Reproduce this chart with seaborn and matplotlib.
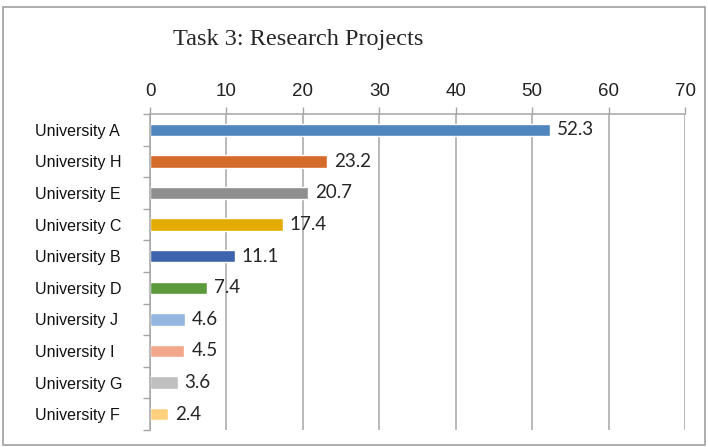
import matplotlib
matplotlib.use("Agg")
import matplotlib.pyplot as plt
import seaborn as sns
import pandas as pd
from matplotlib.patches import Rectangle
from matplotlib.ticker import FixedLocator

universities = ["University A", "University H", "University E", "University C", "University B",
                "University D", "University J", "University I", "University G", "University F"]
values = [52.3, 23.2, 20.7, 17.4, 11.1, 7.4, 4.6, 4.5, 3.6, 2.4]
colors = ["#4F86BE", "#D46B2A", "#8E8E8E", "#E4AC00", "#3E63AE",
          "#5B9A3B", "#95B7E0", "#F2A68A", "#BFBFBF", "#FFD17F"]
x_ticks = [0, 10, 20, 30, 40, 50, 60, 70]
title = "Task 3: Research Projects"

df = pd.DataFrame({"university": universities, "value": values})

sns.set_style("white")
fig = plt.figure(figsize=(7.08, 4.47), dpi=100)
ax = fig.add_axes([150/708, 1-430/447, (685-150)/708, (430-114)/447])

sns.barplot(data=df, y="university", x="value", hue="university",
            palette=dict(zip(universities, colors)), order=universities,
            width=0.39, legend=False, ax=ax, saturation=1)

ax.set_xlim(0, 70)
ax.set_ylim(len(universities)-0.5, -0.5)
ax.xaxis.tick_top()
ax.set_xticks(x_ticks)
ax.set_xticklabels([str(t) for t in x_ticks], fontsize=13.5, family="Liberation Sans", color="#222222")
ax.tick_params(axis="x", which="major", length=5, width=1, color="#A6A6A6", pad=5, top=True, bottom=False)
ax.xaxis.grid(True, color="#A6A6A6", linewidth=1.1)
ax.set_axisbelow(True)
ax.set_xlabel("")
ax.set_ylabel("")

ax.set_yticks(range(len(universities)))
ax.set_yticklabels(universities, fontsize=11.5, family="Liberation Sans", ha="left", color="#111111")
ax.tick_params(axis="y", which="major", length=0, pad=115*0.72)
ax.yaxis.set_minor_locator(FixedLocator([i-0.5 for i in range(len(universities)+1)]))
ax.tick_params(axis="y", which="minor", length=5, width=1, color="#A6A6A6", left=True)

for s in ["right", "bottom"]:
    ax.spines[s].set_visible(False)
for s in ["top", "left"]:
    ax.spines[s].set_color("#A6A6A6")
    ax.spines[s].set_linewidth(1.1)

for c in ax.containers:
    ax.bar_label(c, labels=[f"{v:.1f}" for v in c.datavalues], padding=5,
                 fontsize=13.5, family="Lato", color="#262626")

fig.text(173/708, 1-40/447, title, fontsize=17.5, family="Liberation Serif", va="center", ha="left")

fig.patches.append(Rectangle((3/708, 1-445/447), 702/708, 438/447, transform=fig.transFigure,
                             fill=False, edgecolor="#A0A0A0", linewidth=1.2))

fig.savefig("out.png", dpi=100)
